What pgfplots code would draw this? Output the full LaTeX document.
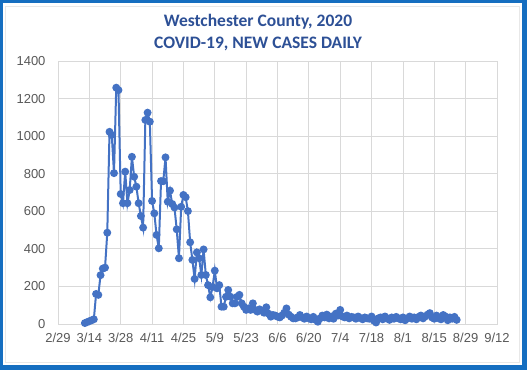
\documentclass[border=0pt]{standalone}
\usepackage{pgfplots}
\pgfplotsset{compat=1.18}
\usepackage{fontspec}
\setmainfont{Liberation Sans}
\newfontfamily\titlefont{Carlito}
\definecolor{frameblue}{RGB}{21,110,192}
\definecolor{titleblue}{RGB}{45,80,150}
\definecolor{lineblue}{RGB}{68,114,196}
\definecolor{gridgray}{RGB}{217,217,217}
\definecolor{ticktext}{RGB}{89,89,89}
\begin{document}
\begin{tikzpicture}[x=1pt,y=1pt]
\useasboundingbox (0,0) rectangle (527,370);
\fill[frameblue] (0,0) rectangle (527,370);
\fill[white] (3,5) rectangle (522,367);
\draw[gridgray!60, line width=0.6pt] (5,8) rectangle (519,364);
\node[font=\titlefont\bfseries\fontsize{17.5}{20}\selectfont, text=titleblue] at (258,348) {Westchester County, 2020};
\node[font=\titlefont\bfseries\fontsize{17.5}{20}\selectfont, text=titleblue] at (258,326) {COVID-19, NEW CASES DAILY};
\begin{axis}[
  at={(58pt,46pt)}, anchor=south west,
  scale only axis, width=439pt, height=263pt,
  xmin=0, xmax=196, ymin=0, ymax=1400,
  xtick={0,14,...,196},
  xticklabels={2/29,3/14,3/28,4/11,4/25,5/9,5/23,6/6,6/20,7/4,7/18,8/1,8/15,8/29,9/12},
  ytick={0,200,...,1400},
  grid=major,
  grid style={gridgray, line width=0.8pt},
  axis line style={gridgray, line width=0.8pt},
  major tick length=0pt,
  tick label style={font=\fontsize{13}{15}\selectfont, text=ticktext},
  /pgf/number format/assume math mode=true,
  /pgf/number format/1000 sep={},
  xticklabel style={yshift=-6pt},
  yticklabel style={xshift=-9pt},
  clip=false,
]
\addplot[color=lineblue, line width=2pt, mark=*, mark size=2.9pt, mark options={fill=lineblue, draw=lineblue}] table[x=d, y=v] {
d v
12 5
13 10
14 15
15 20
16 25
17 160
18 155
19 260
20 295
21 300
22 486
23 1023
24 1006
25 803
26 1258
27 1245
28 692
29 643
30 811
31 643
32 713
33 890
34 784
35 731
36 643
37 575
38 513
39 1086
40 1125
41 1077
42 655
43 589
44 474
45 403
46 761
47 760
48 887
49 651
50 710
51 639
52 620
53 504
54 350
55 624
56 687
57 675
58 601
59 435
60 341
61 240
62 381
63 350
64 261
65 397
66 261
67 207
68 142
69 197
70 284
71 190
72 207
73 92
74 92
75 145
76 181
77 145
78 110
79 110
80 145
81 155
82 110
83 92
84 75
85 83
86 75
87 110
88 75
89 66
90 78
91 70
92 60
93 89
94 55
95 39
96 48
97 45
98 39
99 35
100 45
101 60
102 83
103 50
104 39
105 30
106 30
107 35
108 48
109 35
110 28
111 40
112 30
113 25
114 38
115 22
116 12
117 30
118 45
119 35
120 50
121 30
122 40
123 28
124 55
125 45
126 75
127 40
128 35
129 45
130 30
131 38
132 35
133 28
134 40
135 32
136 25
137 35
138 30
139 28
140 40
141 18
142 8
143 30
144 35
145 25
146 40
147 30
148 22
149 35
150 28
151 38
152 30
153 25
154 35
155 20
156 30
157 40
158 28
159 35
160 25
161 38
162 45
163 30
164 40
165 50
166 58
167 35
168 28
169 45
170 30
171 25
172 48
173 40
174 20
175 35
176 28
177 38
178 22
};
\end{axis}
\end{tikzpicture}
\end{document}
